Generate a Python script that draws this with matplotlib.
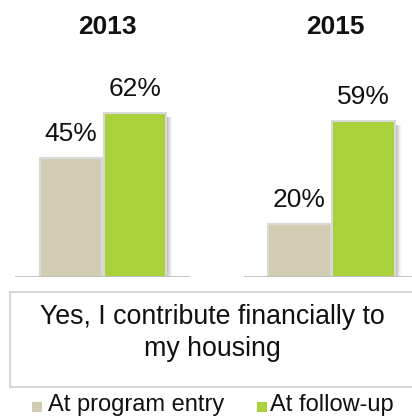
import matplotlib
matplotlib.use("Agg")
import matplotlib.pyplot as plt
import numpy as np
from matplotlib.patches import Rectangle

plt.rcParams['font.family'] = ['Liberation Sans', 'DejaVu Sans']

years = ["2013", "2015"]
series_names = ["At program entry", "At follow-up"]
entry_vals = [45, 20]
followup_vals = [62, 59]
caption = "Yes, I contribute financially to\nmy housing"

c_entry = "#d2cdb2"
c_follow = "#a9d13a"

W, H = 412, 418
fig = plt.figure(figsize=(W / 100, H / 100), dpi=100)

px_per_unit = 2.64
base_y = 276.5
top_y = 50
bar_px = 64

panels = [(15, 190, 71), (244, 413, 299.5)]

grad = np.zeros((1, 64, 4))
grad[0, :, 3] = np.linspace(0.42, 0.0, 64) ** 1.3

for i, (x0, x1, c0) in enumerate(panels):
    ax = fig.add_axes([x0 / W, 1 - base_y / H, (x1 - x0) / W, (base_y - top_y) / H])
    ax.set_xlim(-(c0 - x0) / bar_px, (x1 - c0) / bar_px)
    ax.set_ylim(0, (base_y - top_y) / px_per_unit)
    ax.axis('off')
    vals = [entry_vals[i], followup_vals[i]]
    cols = [c_entry, c_follow]
    # shadow gradient to the right of the follow-up bar
    ax.imshow(grad, extent=(1.49, 1.49 + 7 / bar_px, 0, vals[1] - 1.5), aspect='auto',
              interpolation='bilinear', zorder=1)
    for j in range(2):
        ax.bar(j, vals[j], width=0.98, color=cols[j], edgecolor="#d9d9d9",
               linewidth=1.5, zorder=2)
        ax.annotate(f"{vals[j]}%", (j, vals[j]), xytext=(0, 12), textcoords='offset points',
                    ha='center', va='baseline', fontsize=19, color='#111111')
    ax.set_xlim(-(c0 - x0) / bar_px, (x1 - c0) / bar_px)
    ax.set_ylim(0, (base_y - top_y) / px_per_unit)
    ax.axhline(0, color="#bfbfbf", linewidth=2, zorder=3)
    fig.text((c0 + 36) / W, 1 - 27 / H, years[i], ha='center', va='center',
             fontsize=19, fontweight='bold', color='#111111')

# caption box
fig.patches.append(Rectangle((10 / W, 1 - 387 / H), (420 - 10) / W, (387 - 292) / H,
                             transform=fig.transFigure, facecolor='white',
                             edgecolor='#d0d0d0', linewidth=1.2))
fig.text(212 / W, 1 - 333 / H, caption, ha='center', va='center', fontsize=19.3,
         color='#111111', linespacing=1.32)

# legend
leg = [(32, 48, c_entry, series_names[0]), (257, 270, c_follow, series_names[1])]
for sx, tx, col, name in leg:
    fig.patches.append(Rectangle((sx / W, 1 - 411.5 / H), 10 / W, 10 / H,
                                 transform=fig.transFigure, facecolor=col, edgecolor='none'))
    fig.text(tx / W, 1 - 405 / H, name, ha='left', va='center', fontsize=17, color='#111111')

fig.savefig("out.png", dpi=100)
